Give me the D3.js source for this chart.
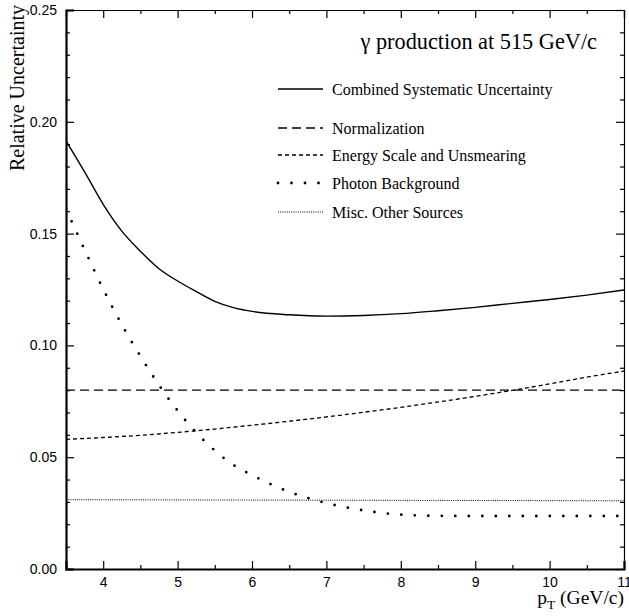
<!DOCTYPE html>
<html>
<head>
<meta charset="utf-8">
<script src="https://cdn.jsdelivr.net/npm/d3@7/dist/d3.min.js"></script>
<style>
  body { margin: 0; background: #fff; }
  svg { display: block; }
</style>
</head>
<body>
<svg id="chart" width="629" height="616"></svg>
<script>
// ---- data ----
const combinedX = [3.5, 3.75, 4.0, 4.25, 4.5, 4.75, 5.0, 5.25, 5.5, 5.75, 6.0, 6.5, 7.0, 7.5, 8.0, 8.5, 9.0, 9.5, 10.0, 10.5, 11.0];
const combinedY = [0.1915, 0.1776, 0.1631, 0.1511, 0.1421, 0.1343, 0.1288, 0.1241, 0.1197, 0.1169, 0.1152, 0.1137, 0.1131, 0.1134, 0.1142, 0.1155, 0.117, 0.1188, 0.1205, 0.1225, 0.1248];

const normX = [3.5, 11.0];
const normY = [0.080, 0.080];

const energyX = [3.5, 4.0, 4.5, 5.0, 5.5, 6.0, 6.5, 7.0, 7.5, 8.0, 8.5, 9.0, 9.5, 10.0, 10.5, 11.0];
const energyY = [0.058, 0.0588, 0.0598, 0.0611, 0.0626, 0.0643, 0.0661, 0.068, 0.0701, 0.0723, 0.0747, 0.0772, 0.0799, 0.0828, 0.0858, 0.0885];

const photonX = [3.5, 3.75, 4.0, 4.25, 4.5, 4.75, 5.0, 5.25, 5.5, 5.75, 6.0, 6.5, 7.0, 7.5, 8.0, 8.5, 9.0, 10.0, 11.0];
const photonY = [0.161, 0.1428, 0.1252, 0.1093, 0.0952, 0.0822, 0.0708, 0.061, 0.053, 0.0465, 0.042, 0.0345, 0.0295, 0.0262, 0.0243, 0.0238, 0.0237, 0.0237, 0.0237];

const miscX = [3.5, 11.0];
const miscY = [0.031, 0.0305];

const seriesNames = ["Combined Systematic Uncertainty", "Normalization", "Energy Scale and Unsmearing", "Photon Background", "Misc. Other Sources"];
const xTicks = [4, 5, 6, 7, 8, 9, 10, 11];
const yTicks = [0.00, 0.05, 0.10, 0.15, 0.20, 0.25];
const titleText = "γ production at 515 GeV/c";

// ---- layout ----
const svg = d3.select("#chart");
const L = 66, R = 624, T = 10, B = 569;
const x = d3.scaleLinear().domain([3.5, 11]).range([L, R]);
const y = d3.scaleLinear().domain([0, 0.25]).range([B, T]);

const styles = [
  { dash: null, width: 1.4, cap: "butt" },
  { dash: "9,5", width: 1.3, cap: "butt" },
  { dash: "4,3", width: 1.3, cap: "butt" },
  { dash: "0,13.5", width: 2.8, cap: "round" },
  { dash: "1,1.2", width: 1, cap: "butt" }
];
const dataSets = [
  [combinedX, combinedY],
  [normX, normY],
  [energyX, energyY],
  [photonX, photonY],
  [miscX, miscY]
];

svg.append("defs").append("clipPath").attr("id", "clip")
  .append("rect").attr("x", L).attr("y", T).attr("width", R - L).attr("height", B - T);

const line = d3.line().x(d => x(d[0])).y(d => y(d[1])).curve(d3.curveMonotoneX);

const g = svg.append("g").attr("clip-path", "url(#clip)");
dataSets.forEach((ds, i) => {
  const pts = ds[0].map((v, j) => [v, ds[1][j]]);
  g.append("path")
    .attr("d", line(pts))
    .attr("fill", "none")
    .attr("stroke", "#000")
    .attr("stroke-width", styles[i].width)
    .attr("stroke-linecap", styles[i].cap)
    .attr("stroke-dasharray", styles[i].dash);
});

const fontSans = "'Liberation Sans', Arial, Helvetica, sans-serif";
const fontSerif = "'Liberation Serif', 'Times New Roman', serif";

const xMinor = d3.range(3.5, 11.01, 0.5).filter(v => !xTicks.includes(v));
const yMinor = d3.range(0, 0.2501, 0.01).map(v => +v.toFixed(2)).filter(v => !yTicks.some(t => Math.abs(t - v) < 1e-9));

const axBottom = d3.axisBottom(x).tickValues(xTicks).tickSize(-8).tickFormat(d3.format("d"));
const axTop = d3.axisTop(x).tickValues(xTicks).tickSize(-8).tickFormat("");
const axLeft = d3.axisLeft(y).tickValues(yTicks).tickSize(-8).tickFormat(d3.format(".2f"));
const axRight = d3.axisRight(y).tickValues(yTicks).tickSize(-8).tickFormat("");

const bottomG = svg.append("g").attr("transform", `translate(0,${B})`).call(axBottom);
const topG = svg.append("g").attr("transform", `translate(0,${T})`).call(axTop);
const leftG = svg.append("g").attr("transform", `translate(${L},0)`).call(axLeft);
const rightG = svg.append("g").attr("transform", `translate(${R},0)`).call(axRight);

svg.append("g").attr("transform", `translate(0,${B})`)
  .call(d3.axisBottom(x).tickValues(xMinor).tickSize(-4).tickFormat(""))
  .select(".domain").remove();
svg.append("g").attr("transform", `translate(0,${T})`)
  .call(d3.axisTop(x).tickValues(xMinor).tickSize(-4).tickFormat(""))
  .select(".domain").remove();
svg.append("g").attr("transform", `translate(${L},0)`)
  .call(d3.axisLeft(y).tickValues(yMinor).tickSize(-4).tickFormat(""))
  .select(".domain").remove();
svg.append("g").attr("transform", `translate(${R},0)`)
  .call(d3.axisRight(y).tickValues(yMinor).tickSize(-4).tickFormat(""))
  .select(".domain").remove();

svg.selectAll(".tick line").attr("stroke", "#000").attr("stroke-width", 1.2);
svg.selectAll(".domain").attr("stroke", "#000");
bottomG.select(".domain").attr("stroke-width", 2.2);
leftG.select(".domain").attr("stroke-width", 2.2);
topG.select(".domain").attr("stroke-width", 1.2);
rightG.select(".domain").attr("stroke-width", 1.2);

bottomG.selectAll("text").attr("font-family", fontSans).attr("font-size", 14).attr("fill", "#000").attr("y", 8).attr("dy", "0.71em");
leftG.selectAll("text").attr("font-family", fontSans).attr("font-size", 14).attr("fill", "#000").attr("x", -9);

svg.append("text")
  .attr("transform", `translate(24,5) rotate(-90)`)
  .attr("text-anchor", "end")
  .attr("font-family", fontSerif).attr("font-size", 20)
  .text("Relative Uncertainty");

const xl = svg.append("text")
  .attr("x", 624).attr("y", 604)
  .attr("text-anchor", "end")
  .attr("font-family", fontSerif).attr("font-size", 19.5);
xl.append("tspan").text("p");
xl.append("tspan").attr("font-size", 13.5).attr("dy", 5).text("T");
xl.append("tspan").attr("dy", -5).text(" (GeV/c)");

svg.append("text")
  .attr("x", 597).attr("y", 49)
  .attr("text-anchor", "end")
  .attr("font-family", fontSerif).attr("font-size", 22.3)
  .text(titleText);

const legY = [89, 128, 155, 183, 212];
seriesNames.forEach((name, i) => {
  svg.append("line")
    .attr("x1", 278).attr("x2", 323)
    .attr("y1", legY[i]).attr("y2", legY[i])
    .attr("stroke", "#000")
    .attr("stroke-width", styles[i].width)
    .attr("stroke-linecap", styles[i].cap)
    .attr("stroke-dasharray", styles[i].dash);
  svg.append("text")
    .attr("x", 332).attr("y", legY[i]).attr("dy", "0.35em")
    .attr("font-family", fontSerif).attr("font-size", 16)
    .text(name);
});
</script>
</body>
</html>
